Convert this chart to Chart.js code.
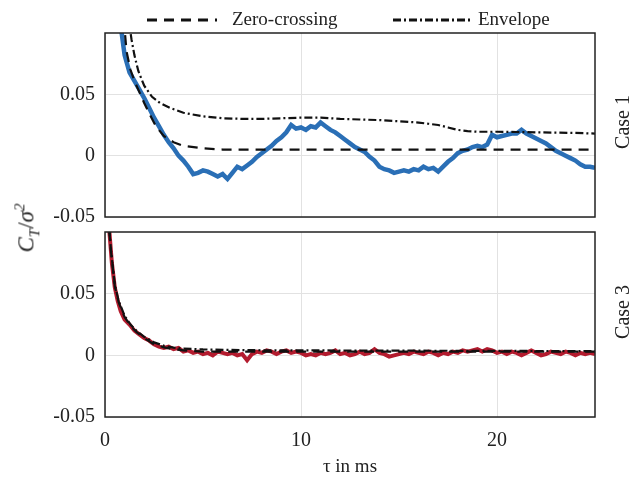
<!DOCTYPE html>
<html>
<head>
<meta charset="utf-8">
<script src="https://cdn.jsdelivr.net/npm/chart.js@4.4.1/dist/chart.umd.min.js"></script>
<style>
  body { margin: 0; background: #fff; }
  #wrap { position: relative; width: 641px; height: 477px; font-family: "Liberation Serif", serif; color: #222; }
  .box { position: absolute; left: 0; width: 641px; }
  #topBox { top: 0; height: 225px; }
  #botBox { top: 225px; height: 252px; }
  .vlabel { position: absolute; transform: translate(-50%, -50%) rotate(-90deg); white-space: nowrap; font-size: 20px; }
  .ytitle { font-size: 23px; }
  .ytitle sub, .ytitle sup { font-size: 15px; }
</style>
</head>
<body>
<div id="wrap">
  <div class="box" id="topBox"><canvas id="topChart" width="641" height="225"></canvas></div>
  <div class="box" id="botBox"><canvas id="botChart" width="641" height="252"></canvas></div>
  <div class="vlabel ytitle" style="left:27px; top:228px;"><i>C<sub>T</sub></i>/<i>σ<sup>2</sup></i></div>
  <div class="vlabel" style="left:622px; top:122px;">Case 1</div>
  <div class="vlabel" style="left:622px; top:312px;">Case 3</div>
</div>
<script>
// x ticks and y ticks
const xTicks = [0, 10, 20];
const yTicks = [-0.05, 0, 0.05];
const yTickLabels = ['-0.05', '0', '0.05'];

// Case 1 (top panel)
const tau1 = [0.75, 1, 1.25, 1.5, 1.75, 2, 2.25, 2.5, 2.75, 3, 3.25, 3.5, 3.75, 4, 4.25, 4.5, 4.75, 5, 5.25, 5.5, 5.75, 6, 6.25, 6.5, 6.75, 7, 7.25, 7.5, 7.75, 8, 8.25, 8.5, 8.75, 9, 9.25, 9.5, 9.75, 10, 10.25, 10.5, 10.75, 11, 11.25, 11.5, 11.75, 12, 12.25, 12.5, 12.75, 13, 13.25, 13.5, 13.75, 14, 14.25, 14.5, 14.75, 15, 15.25, 15.5, 15.75, 16, 16.25, 16.5, 16.75, 17, 17.25, 17.5, 17.75, 18, 18.25, 18.5, 18.75, 19, 19.25, 19.5, 19.75, 20, 20.25, 20.5, 20.75, 21, 21.25, 21.5, 21.75, 22, 22.25, 22.5, 22.75, 23, 23.25, 23.5, 23.75, 24, 24.25, 24.5, 24.75, 25];
const case1 = [0.112, 0.082, 0.068, 0.061, 0.054, 0.047, 0.039, 0.031, 0.024, 0.017, 0.011, 0.006, 0.000, -0.004, -0.009, -0.015, -0.014, -0.012, -0.013, -0.015, -0.017, -0.015, -0.019, -0.014, -0.009, -0.011, -0.008, -0.005, -0.001, 0.002, 0.005, 0.008, 0.012, 0.015, 0.019, 0.025, 0.022, 0.023, 0.021, 0.024, 0.023, 0.027, 0.024, 0.021, 0.019, 0.016, 0.013, 0.010, 0.007, 0.005, 0.003, -0.001, -0.004, -0.009, -0.011, -0.012, -0.014, -0.013, -0.012, -0.013, -0.011, -0.012, -0.009, -0.011, -0.010, -0.013, -0.009, -0.005, -0.002, 0.002, 0.004, 0.005, 0.007, 0.008, 0.007, 0.009, 0.017, 0.015, 0.016, 0.017, 0.018, 0.018, 0.021, 0.018, 0.016, 0.014, 0.012, 0.010, 0.007, 0.004, 0.002, 0.000, -0.002, -0.004, -0.007, -0.009, -0.009, -0.010];
const tauZc1 = [0.95, 1.1, 1.3, 1.5, 1.75, 2, 2.3, 2.6, 3, 3.5, 4, 5, 6, 8, 10, 15, 20, 25];
const zc1 = [0.112, 0.085, 0.070, 0.061, 0.052, 0.043, 0.033, 0.024, 0.016, 0.011, 0.008, 0.006, 0.005, 0.005, 0.005, 0.005, 0.005, 0.005];
const tauEnv1 = [1.2, 1.35, 1.5, 1.7, 2, 2.4, 2.8, 3.3, 4, 5, 6, 7, 8, 9, 10, 11, 12, 13, 14, 15, 16, 16.5, 17, 17.5, 18, 18.5, 19, 20, 21, 22, 23, 24, 25];
const env1 = [0.112, 0.095, 0.082, 0.069, 0.057, 0.048, 0.043, 0.039, 0.035, 0.032, 0.0305, 0.030, 0.030, 0.0305, 0.031, 0.031, 0.030, 0.0295, 0.029, 0.028, 0.027, 0.026, 0.025, 0.023, 0.021, 0.020, 0.0195, 0.0195, 0.0193, 0.019, 0.0188, 0.0185, 0.018];

// Case 3 (bottom panel)
const tau3 = [0.15, 0.25, 0.35, 0.5, 0.65, 0.8, 1, 1.25, 1.5, 1.75, 2, 2.25, 2.5, 2.75, 3, 3.25, 3.5, 3.75, 4, 4.25, 4.5, 4.75, 5, 5.25, 5.5, 5.75, 6, 6.25, 6.5, 6.75, 7, 7.25, 7.5, 7.75, 8, 8.25, 8.5, 8.75, 9, 9.25, 9.5, 9.75, 10, 10.25, 10.5, 10.75, 11, 11.25, 11.5, 11.75, 12, 12.25, 12.5, 12.75, 13, 13.25, 13.5, 13.75, 14, 14.25, 14.5, 14.75, 15, 15.25, 15.5, 15.75, 16, 16.25, 16.5, 16.75, 17, 17.25, 17.5, 17.75, 18, 18.25, 18.5, 18.75, 19, 19.25, 19.5, 19.75, 20, 20.25, 20.5, 20.75, 21, 21.25, 21.5, 21.75, 22, 22.25, 22.5, 22.75, 23, 23.25, 23.5, 23.75, 24, 24.25, 24.5, 24.75, 25];
const case3 = [0.115, 0.095, 0.075, 0.055, 0.044, 0.036, 0.029, 0.025, 0.020, 0.017, 0.014, 0.012, 0.009, 0.007, 0.006, 0.007, 0.005, 0.006, 0.003, 0.004, 0.002, 0.003, 0.001, 0.002, 0.000, 0.003, 0.002, 0.001, 0.002, 0.000, 0.001, -0.004, 0.001, 0.003, 0.002, 0.004, 0.003, 0.001, 0.003, 0.004, 0.002, 0.003, 0.002, 0.000, 0.001, 0.000, 0.002, 0.001, 0.002, 0.004, 0.001, 0.002, 0.000, 0.001, 0.003, 0.001, 0.002, 0.005, 0.002, 0.001, -0.001, 0.000, 0.001, 0.002, 0.001, 0.003, 0.002, 0.001, 0.003, 0.002, 0.000, 0.002, 0.001, 0.003, 0.002, 0.004, 0.003, 0.004, 0.005, 0.003, 0.005, 0.004, 0.002, 0.003, 0.001, 0.003, 0.002, 0.000, 0.002, 0.004, 0.002, 0.000, 0.001, 0.003, 0.002, 0.001, 0.003, 0.002, 0.000, 0.002, 0.001, 0.002, 0.001];
const tauZc3 = [0.15, 0.3, 0.5, 0.7, 1, 1.3, 1.6, 2, 2.5, 3, 3.5, 4, 5, 25];
const zc3 = [0.115, 0.085, 0.056, 0.043, 0.031, 0.024, 0.019, 0.014, 0.009, 0.0065, 0.005, 0.004, 0.003, 0.003];
const tauEnv3 = [0.15, 0.3, 0.5, 0.7, 1, 1.3, 1.6, 2, 2.5, 3, 3.5, 4, 5, 7, 10, 15, 20, 25];
const env3 = [0.116, 0.086, 0.057, 0.044, 0.032, 0.025, 0.020, 0.015, 0.0105, 0.0078, 0.0062, 0.0055, 0.0048, 0.0042, 0.004, 0.0038, 0.0036, 0.0034];

const pts = (xs, ys) => xs.map((x, i) => ({ x: x, y: ys[i] }));

Chart.defaults.font.family = '"Liberation Serif", serif';
Chart.defaults.font.size = 20;
Chart.defaults.color = '#222';

const frame = {
  id: 'frame',
  afterDatasetsDraw(chart) {
    const { ctx, chartArea: a } = chart;
    ctx.save();
    ctx.strokeStyle = '#222';
    ctx.lineWidth = 1.5;
    ctx.strokeRect(a.left, a.top, a.right - a.left, a.bottom - a.top);
    ctx.restore();
  }
};

// legend drawn above the top panel
const lineLegend = {
  id: 'lineLegend',
  afterDraw(chart, args, opts) {
    const ctx = chart.ctx;
    opts.items.forEach(it => {
      const ds = chart.data.datasets[it.index];
      ctx.save();
      ctx.strokeStyle = ds.borderColor;
      ctx.lineWidth = 2.8;
      ctx.setLineDash(ds.borderDash || []);
      ctx.beginPath();
      ctx.moveTo(it.x0, opts.y);
      ctx.lineTo(it.x1, opts.y);
      ctx.stroke();
      ctx.setLineDash([]);
      ctx.fillStyle = '#222';
      ctx.font = '19px "Liberation Serif", serif';
      ctx.textBaseline = 'middle';
      ctx.fillText(ds.label, it.tx, opts.y);
      ctx.restore();
    });
  }
};

function makeOptions(showX, padTop, xHeight) {
  return {
    responsive: false,
    animation: false,
    layout: { padding: { left: 0, right: 46, top: padTop, bottom: 0 } },
    plugins: { legend: { display: false }, tooltip: { enabled: false } },
    elements: { point: { radius: 0 }, line: { tension: 0 } },
    scales: {
      x: {
        type: 'linear', min: 0, max: 25,
        afterBuildTicks: s => { s.ticks = xTicks.map(v => ({ value: v })); },
        afterFit: s => { s.height = xHeight; s.paddingLeft = 0; s.paddingRight = 0; },
        grid: { color: '#e2e2e2', drawTicks: false },
        border: { display: false },
        ticks: { display: showX, padding: 12, maxRotation: 0 },
        title: { display: showX, text: 'τ in ms', font: { size: 19, lineHeight: 1.0 }, padding: 0 }
      },
      y: {
        min: -0.05, max: 0.1,
        afterBuildTicks: s => { s.ticks = yTicks.map(v => ({ value: v })); },
        afterFit: s => { s.width = 105; s.paddingTop = 0; s.paddingBottom = 0; },
        grid: { color: '#e2e2e2', drawTicks: false },
        border: { display: false },
        ticks: { padding: 10, callback: v => yTickLabels[yTicks.indexOf(v)] }
      }
    }
  };
}

const topOpts = makeOptions(false, 33, 8);
topOpts.plugins.lineLegend = {
  y: 20,
  items: [
    { index: 0, x0: 147, x1: 217, tx: 232 },
    { index: 1, x0: 393, x1: 472, tx: 478 }
  ]
};

new Chart(document.getElementById('topChart'), {
  type: 'line',
  data: {
    datasets: [
      { label: 'Zero-crossing', data: pts(tauZc1, zc1), borderColor: '#111', borderWidth: 2.2, borderDash: [10, 7], order: 0 },
      { label: 'Envelope', data: pts(tauEnv1, env1), borderColor: '#111', borderWidth: 2.2, borderDash: [8, 3, 2, 3], order: 0 },
      { label: 'Case 1', data: pts(tau1, case1), borderColor: '#2a6fb6', borderWidth: 4.5, order: 1 }
    ]
  },
  options: topOpts,
  plugins: [frame, lineLegend]
});

new Chart(document.getElementById('botChart'), {
  type: 'line',
  data: {
    datasets: [
      { label: 'Zero-crossing', data: pts(tauZc3, zc3), borderColor: '#111', borderWidth: 2.2, borderDash: [10, 7], order: 0 },
      { label: 'Envelope', data: pts(tauEnv3, env3), borderColor: '#111', borderWidth: 2.2, borderDash: [8, 3, 2, 3], order: 0 },
      { label: 'Case 3', data: pts(tau3, case3), borderColor: '#b31b2e', borderWidth: 4, order: 1 }
    ]
  },
  options: makeOptions(true, 7, 60),
  plugins: [frame]
});
</script>
</body>
</html>
